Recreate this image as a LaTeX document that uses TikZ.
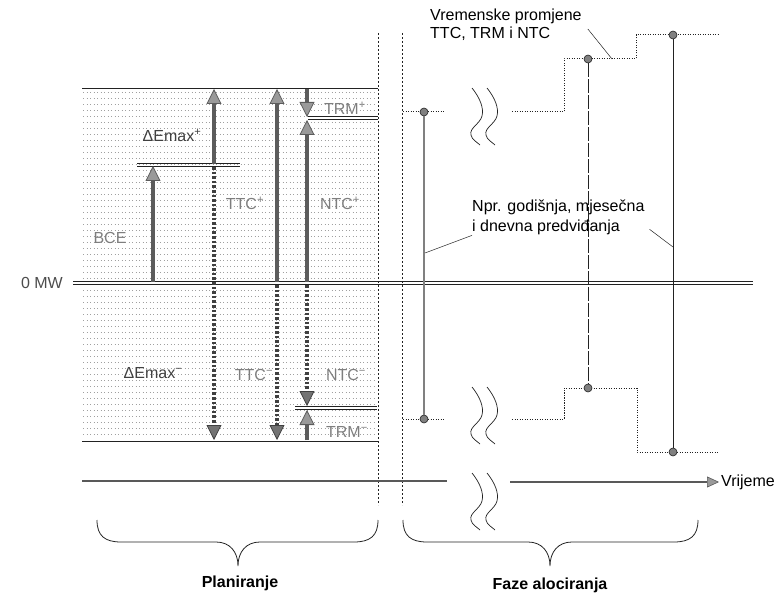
\documentclass[tikz,border=0pt]{standalone}
\usepackage{fontspec}
\setmainfont{Liberation Sans}
\usetikzlibrary{arrows.meta}
\definecolor{ink}{HTML}{222222}
\definecolor{arrowink}{HTML}{5C5C5C}
\definecolor{headfill}{HTML}{9A9A9A}
\definecolor{labelgray}{HTML}{7E7E7E}
\definecolor{dotrow}{HTML}{A0A0A0}
\newcommand{\breakmark}[2]{%
  \foreach \dx in {0,15}{
    \draw[ink, line width=0.7pt] (#1+\dx,#2)
      .. controls (#1+\dx+8,#2+10) and (#1+\dx+12,#2+20) .. (#1+\dx+10,#2+28)
      .. controls (#1+\dx+8,#2+36) and (#1+\dx-3,#2+40) .. (#1+\dx-1,#2+47)
      .. controls (#1+\dx,#2+52) and (#1+\dx+5,#2+54) .. (#1+\dx+8,#2+57);
  }%
}
\newcommand{\levelpair}[3]{%
  \draw[levelline] (#1,#3-1.3) -- (#2,#3-1.3);
  \draw[levelline] (#1,#3+1.3) -- (#2,#3+1.3);
}
\newcommand{\phasebrace}[3]{%
  \draw[ink, line width=0.8pt] (#1,520) .. controls (#1,536) and (#1+8,542) .. (#1+24,542)
    -- (#3-22,542) .. controls (#3-8,542) and (#3,552) .. (#3,566)
    .. controls (#3,552) and (#3+8,542) .. (#3+22,542)
    -- (#2-24,542) .. controls (#2-8,542) and (#2,536) .. (#2,520);
}
\begin{document}
\begin{tikzpicture}[
  x=1pt,
  y=-1pt,
  font=\fontsize{16}{19}\selectfont,
  posarrow/.style={line width=3.6pt, arrowink, -{Triangle[width=15pt,length=15pt,fill=headfill,line width=0.8pt]}},
  negarrow/.style={line width=4pt, black!75, dash pattern=on 2.6pt off 2pt, -{Triangle[width=15pt,length=15pt,fill=black!55,line width=0.8pt]}},
  levelline/.style={ink, line width=0.8pt},
  tag/.style={text=labelgray, inner sep=0pt},
  marker/.style={circle, draw=ink, fill=gray, line width=0.6pt, inner sep=0pt, minimum size=8pt},
  stepline/.style={ink, line width=1pt, dash pattern=on 1.2pt off 1.3pt},
  leader/.style={ink, line width=0.5pt},
  timeline/.style={black!65, line width=2.2pt},
  phase/.style={font=\bfseries\fontsize{16}{19}\selectfont}
]
  \useasboundingbox (0,0) rectangle (780,599);

  % planning area
  \foreach \row in {92,98,...,436}
    \draw[dotrow, line width=0.6pt, dash pattern=on 1pt off 2.5pt] (83,\row) -- (377,\row);
  \draw[ink, line width=0.7pt] (82,88) -- (378,88);
  \draw[ink, line width=0.7pt] (82,441) -- (378,441);
  \levelpair{137}{240}{165}
  \levelpair{308}{378}{118}
  \levelpair{295}{377}{408}
  \levelpair{73}{753}{283}

  \draw[negarrow] (214,167) -- (214,440);
  \draw[negarrow] (277,285) -- (277,440);
  \draw[negarrow] (307,285) -- (307,406);
  \draw[posarrow] (153,282) -- (153,166);
  \draw[posarrow] (214,164) -- (214,89);
  \draw[posarrow] (277,282) -- (277,89);
  \draw[posarrow] (307,282) -- (307,120);
  \draw[posarrow] (307,89) -- (307,117);
  \draw[posarrow] (307,440) -- (307,410);

  \node[tag, text=black!75] (demaxp) at (172,135) {ΔEmax\textsuperscript{+}};
  \node[tag] (bce) at (110,238) {BCE};
  \node[tag] (ttcp) at (245,203) {TTC\textsuperscript{+}};
  \node[tag] (ntcp) at (340,203) {NTC\textsuperscript{+}};
  \node[tag] (trmp) at (345,108) {TRM\textsuperscript{+}};
  \node[tag, text=black!75] (demaxm) at (153,373) {ΔEmax\textsuperscript{−}};
  \node[tag] (ttcm) at (254,375) {TTC\textsuperscript{−}};
  \node[tag] (ntcm) at (346,375) {NTC\textsuperscript{−}};
  \node[tag] (trmm) at (347,432) {TRM\textsuperscript{−}};
  \node[tag, text=black!70, anchor=east] (zero) at (63,283) {0 MW};

  % phase borders
  \draw[ink, line width=0.7pt, dash pattern=on 2pt off 2pt] (378,33) -- (378,505);
  \draw[ink, line width=0.7pt, dash pattern=on 2pt off 2pt] (402,33) -- (402,505);

  % allocation steps
  \draw[stepline] (403,112) -- (445,112);
  \draw[stepline] (512,112) -- (564,112) -- (564,59) -- (636,59) -- (636,35) -- (718,35);
  \draw[stepline] (403,419) -- (445,419);
  \draw[stepline] (512,419) -- (564,419) -- (564,388) -- (637,388) -- (637,452) -- (718,452);
  \breakmark{472}{88}
  \breakmark{472}{387}
  \breakmark{472}{473}

  \node[marker] (up1) at (424,112) {};
  \node[marker] (lo1) at (424,419) {};
  \node[marker] (up2) at (588,59) {};
  \node[marker] (lo2) at (588,388) {};
  \node[marker] (up3) at (673,35) {};
  \node[marker] (lo3) at (673,452) {};
  \draw[gray, line width=1.6pt] (up1) -- (lo1);
  \draw[ink, line width=0.6pt, dash pattern=on 14pt off 2pt] (up2) -- (lo2);
  \draw[ink, line width=0.6pt] (up3) -- (lo3);

  \node[anchor=north west, align=left, inner sep=0pt, font=\fontsize{16}{18}\selectfont] (vrem) at (430,9)
    {Vremenske promjene\\TTC, TRM i NTC};
  \coordinate (stepmark) at (612,59);
  \draw[leader] ([shift={(6,4)}]vrem.east) -- (stepmark);

  \node[anchor=north west, align=left, inner sep=0pt, font=\fontsize{16}{20}\selectfont] (npr) at (472,200)
    {Npr. godišnja, mjesečna\\i dnevna predviđanja};
  \coordinate (fc1) at (425,253);
  \coordinate (fc3) at (673,247);
  \draw[leader] (npr.south west) -- (fc1);
  \draw[leader] ([shift={(5,-6)}]npr.south east) -- (fc3);

  % time axis
  \coordinate (t0) at (82,481);
  \coordinate (t1) at (447,481);
  \coordinate (t2) at (510,482);
  \node[anchor=west, inner sep=0pt] (vrij) at (721,482) {Vrijeme};
  \draw[timeline] (t0) -- (t1);
  \draw[timeline, -{Triangle[width=11pt,length=12pt,fill=headfill,line width=0.6pt]}] (t2) -- ([xshift=-2pt]vrij.west);

  \phasebrace{97}{378}{238}
  \phasebrace{403}{698}{550}
  \node[phase] (plan) at (240,583) {Planiranje};
  \node[phase] (alok) at (550,585) {Faze alociranja};
\end{tikzpicture}
\end{document}
